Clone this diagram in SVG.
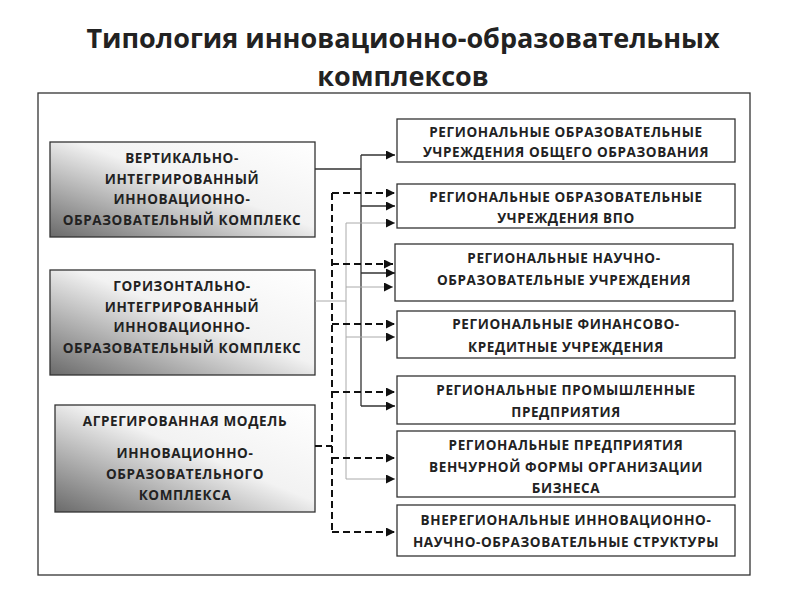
<svg xmlns="http://www.w3.org/2000/svg" width="800" height="600" viewBox="0 0 800 600">
<style>
text{font-family:"Open Sans","Liberation Sans",sans-serif;font-weight:bold;fill:#222;text-anchor:middle}
.t{font-size:13.5px;letter-spacing:0.6px}
.r{fill:#fff;stroke:#333;stroke-width:1.3}
.l{fill:url(#g);stroke:#333;stroke-width:1.3}
.s{stroke:#333;stroke-width:1.3;fill:none}
.gr{stroke:#aaa;stroke-width:1;fill:none}
.d{stroke:#111;stroke-width:2;stroke-dasharray:7 4;fill:none}
</style>
<defs>
<linearGradient id="g" x1="1" y1="0" x2="0" y2="1">
<stop offset="0" stop-color="#fff"/><stop offset="0.45" stop-color="#f2f2f2"/><stop offset="1" stop-color="#6a6a6a"/>
</linearGradient>
<marker id="a" viewBox="0 0 10 10" refX="10" refY="5" markerWidth="9" markerHeight="9" markerUnits="userSpaceOnUse" orient="auto"><path d="M0,0L10,5L0,10z" fill="#111"/></marker>
</defs>
<text x="403" y="48" style="font-size:27px">Типология инновационно-образовательных</text>
<text x="403" y="86" style="font-size:27px">комплексов</text>
<rect x="38" y="93" width="712" height="482" fill="none" stroke="#333" stroke-width="1.3"/>
<g id="left1"><rect class="l" x="50" y="142" width="265" height="95"/>
<text class="t" x="182" y="163">ВЕРТИКАЛЬНО-</text><text class="t" x="182" y="184">ИНТЕГРИРОВАННЫЙ</text><text class="t" x="182" y="204">ИННОВАЦИОННО-</text><text class="t" x="182" y="225">ОБРАЗОВАТЕЛЬНЫЙ КОМПЛЕКС</text></g>
<g id="left2"><rect class="l" x="50" y="270" width="265" height="105"/>
<text class="t" x="182" y="291">ГОРИЗОНТАЛЬНО-</text><text class="t" x="182" y="312">ИНТЕГРИРОВАННЫЙ</text><text class="t" x="182" y="332">ИННОВАЦИОННО-</text><text class="t" x="182" y="353">ОБРАЗОВАТЕЛЬНЫЙ КОМПЛЕКС</text></g>
<g id="left3"><rect class="l" x="55" y="405" width="260" height="107"/>
<text class="t" x="185" y="426">АГРЕГИРОВАННАЯ МОДЕЛЬ</text><text class="t" x="185" y="458">ИННОВАЦИОННО-</text><text class="t" x="185" y="479">ОБРАЗОВАТЕЛЬНОГО</text><text class="t" x="185" y="500">КОМПЛЕКСА</text></g>
<g id="r1"><rect class="r" x="397" y="119" width="338" height="43"/><text class="t" x="566" y="137">РЕГИОНАЛЬНЫЕ ОБРАЗОВАТЕЛЬНЫЕ</text><text class="t" x="566" y="157">УЧРЕЖДЕНИЯ ОБЩЕГО ОБРАЗОВАНИЯ</text></g>
<g id="r2"><rect class="r" x="397" y="184" width="338" height="44"/><text class="t" x="566" y="202">РЕГИОНАЛЬНЫЕ ОБРАЗОВАТЕЛЬНЫЕ</text><text class="t" x="566" y="223">УЧРЕЖДЕНИЯ ВПО</text></g>
<g id="r3"><rect class="r" x="395" y="244" width="338" height="57"/><text class="t" x="564" y="263">РЕГИОНАЛЬНЫЕ НАУЧНО-</text><text class="t" x="564" y="285">ОБРАЗОВАТЕЛЬНЫЕ  УЧРЕЖДЕНИЯ</text></g>
<g id="r4"><rect class="r" x="397" y="311" width="338" height="47"/><text class="t" x="566" y="329">РЕГИОНАЛЬНЫЕ ФИНАНСОВО-</text><text class="t" x="566" y="352">КРЕДИТНЫЕ УЧРЕЖДЕНИЯ</text></g>
<g id="r5"><rect class="r" x="397" y="376" width="338" height="48"/><text class="t" x="566" y="395">РЕГИОНАЛЬНЫЕ ПРОМЫШЛЕННЫЕ</text><text class="t" x="566" y="417">ПРЕДПРИЯТИЯ</text></g>
<g id="r6"><rect class="r" x="397" y="431" width="338" height="66"/><text class="t" x="566" y="450">РЕГИОНАЛЬНЫЕ ПРЕДПРИЯТИЯ</text><text class="t" x="566" y="472">ВЕНЧУРНОЙ ФОРМЫ ОРГАНИЗАЦИИ</text><text class="t" x="566" y="493">БИЗНЕСА</text></g>
<g id="r7"><rect class="r" x="397" y="505" width="338" height="51"/><text class="t" x="566" y="525">ВНЕРЕГИОНАЛЬНЫЕ ИННОВАЦИОННО-</text><text class="t" x="566" y="547">НАУЧНО-ОБРАЗОВАТЕЛЬНЫЕ СТРУКТУРЫ</text></g>
<g id="connectors">
<path class="s" d="M315,169H361M361,155V406"/>
<path class="s" marker-end="url(#a)" d="M361,155H395"/>
<path class="s" marker-end="url(#a)" d="M361,206H395"/>
<path class="s" marker-end="url(#a)" d="M361,273H395"/>
<path class="s" marker-end="url(#a)" d="M361,406H395"/>
<path class="gr" d="M315,301H346M346,223V479"/>
<path class="gr" marker-end="url(#a)" d="M346,223H395"/>
<path class="gr" marker-end="url(#a)" d="M346,287H393"/>
<path class="gr" marker-end="url(#a)" d="M346,337H395"/>
<path class="gr" marker-end="url(#a)" d="M346,479H395"/>
<path class="d" d="M315,446H332M332,193V532"/>
<path class="d" marker-end="url(#a)" d="M332,193H395"/>
<path class="d" marker-end="url(#a)" d="M332,264H393"/>
<path class="d" marker-end="url(#a)" d="M332,324H395"/>
<path class="d" marker-end="url(#a)" d="M332,392H395"/>
<path class="d" marker-end="url(#a)" d="M332,458H395"/>
<path class="d" marker-end="url(#a)" d="M332,532H395"/>
</g>
</svg>
